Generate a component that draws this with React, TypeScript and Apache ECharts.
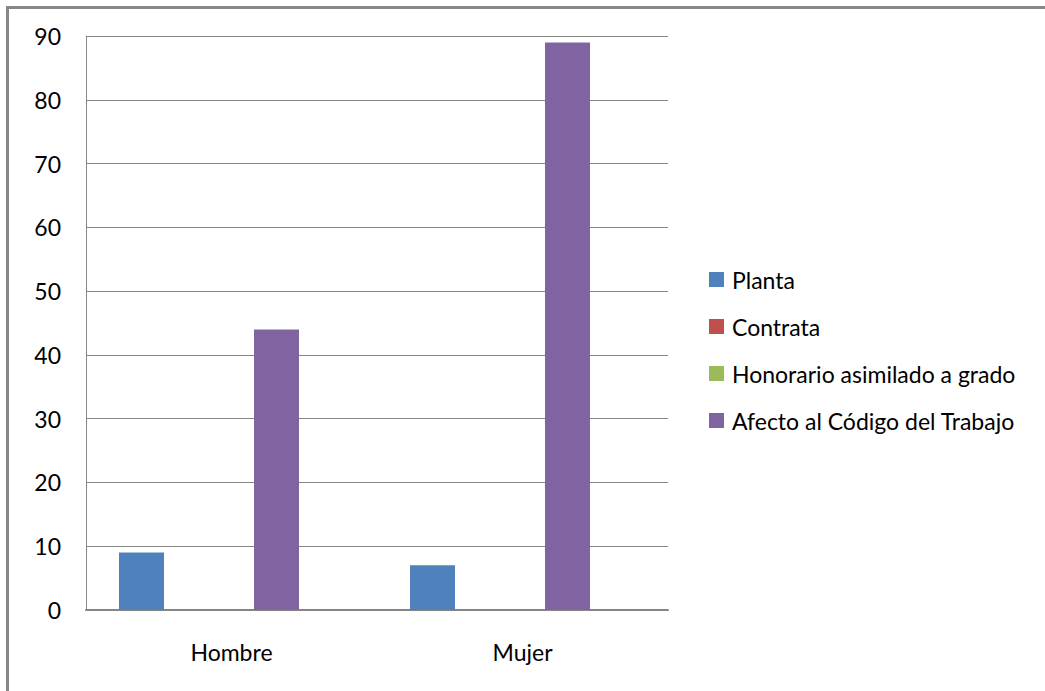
import React, { useEffect, useRef } from "react";
import * as echarts from "echarts";

const categories = ["Hombre", "Mujer"];
const seriesNames = ["Planta", "Contrata", "Honorario asimilado a grado", "Afecto al Código del Trabajo"];
const planta = [9, 7];
const contrata = [0, 0];
const honorario = [0, 0];
const afecto = [44, 89];
const emptySlot = [null, null];
const colors = ["#4F81BD", "#C0504D", "#9BBB59", "#8064A2"];

const FONT = "Lato";
const FS = 23;

export default function App() {
  const ref = useRef<HTMLDivElement>(null);
  useEffect(() => {
    document.body.style.margin = "0";
    const chart = echarts.init(ref.current!, null, { renderer: "svg" });
    const values = [planta, contrata, honorario, afecto];
    chart.setOption({
      animation: false,
      backgroundColor: "#ffffff",
      textStyle: { fontFamily: FONT },
      grid: { left: 86, top: 36, right: 377, bottom: 81 },
      legend: {
        orient: "vertical",
        left: 704,
        top: 263,
        itemWidth: 15,
        itemHeight: 15,
        itemGap: 24,
        icon: "rect",
        data: seriesNames,
        textStyle: { fontFamily: FONT, fontSize: FS, color: "#000", padding: [0, 0, 0, 3] },
      },
      xAxis: {
        type: "category",
        data: categories,
        axisTick: { show: false },
        axisLine: { lineStyle: { color: "#868686", width: 2 } },
        axisLabel: { margin: 30, fontFamily: FONT, fontSize: FS, color: "#000" },
      },
      yAxis: {
        type: "value",
        min: 0,
        max: 90,
        interval: 10,
        axisLine: { show: true, lineStyle: { color: "#868686", width: 1 } },
        axisTick: { show: false },
        splitLine: { lineStyle: { color: "#868686", width: 1 } },
        axisLabel: { margin: 25, fontFamily: FONT, fontSize: FS, color: "#000" },
      },
      series: [
        ...seriesNames.map((name, i) => ({
          name,
          type: "bar",
          data: values[i],
          barWidth: 45,
          barGap: "0%",
          itemStyle: { color: colors[i] },
        })),
        { name: "", type: "bar", data: emptySlot, barWidth: 45, barGap: "0%" },
      ],
      graphic: [
        { type: "line", shape: { x1: 6, y1: 7.5, x2: 1045, y2: 7.5 }, style: { stroke: "#878787", lineWidth: 3 } },
        { type: "line", shape: { x1: 7.5, y1: 6, x2: 7.5, y2: 691 }, style: { stroke: "#878787", lineWidth: 3 } },
      ],
    });
    return () => chart.dispose();
  }, []);
  return <div ref={ref} style={{ position: "absolute", left: 0, top: 0, width: 1045, height: 691 }} />;
}
